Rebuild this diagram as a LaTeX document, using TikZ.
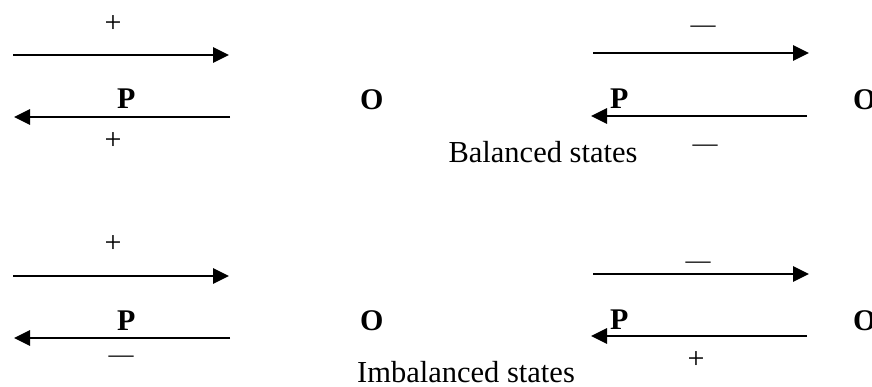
\documentclass[tikz,border=0pt]{standalone}
\usepackage{fontspec}
\setmainfont{Liberation Serif}
\usetikzlibrary{arrows.meta}
\tikzset{
  arr/.style={line width=2.9pt,-{Triangle[length=16pt,width=15pt]}},
  lbl/.style={inner sep=0pt,font=\fontsize{30.5}{36}\selectfont},
  sgn/.style={inner sep=0pt,font=\fontsize{30}{36}\selectfont,anchor=center},
  dsh/.style={inner sep=0pt,font=\fontsize{25}{30}\selectfont,anchor=center},
  pt/.style={inner sep=0pt,font=\fontsize{30}{36}\selectfont\bfseries,anchor=base west},
}
\begin{document}
\begin{tikzpicture}[x=1pt,y=-1pt]
\useasboundingbox (0,0) rectangle (872,387);
% panel 1 (balanced, left)
\coordinate (a1s) at (13,55); \coordinate (a1e) at (229,55);
\coordinate (b1s) at (230,117); \coordinate (b1e) at (14,117);
\draw[arr] (a1s) -- (a1e);
\draw[arr] (b1s) -- (b1e);
\node[sgn] (s1t) at (113,24) {+};
\node[sgn] (s1b) at (113,141) {+};
\node[pt] (p1) at (117,109) {P};
\node[pt] (o1) at (360,110) {O};
% panel 2 (balanced, right)
\coordinate (a2s) at (593,53); \coordinate (a2e) at (809,53);
\coordinate (b2s) at (807,116); \coordinate (b2e) at (591,116);
\draw[arr] (a2s) -- (a2e);
\draw[arr] (b2s) -- (b2e);
\node[dsh] (s2t) at (703,29) {—};
\node[dsh] (s2b) at (705,148) {—};
\node[pt] (p2) at (610,109) {P};
\node[pt] (o2) at (853,110) {O};
\node[lbl,anchor=base] (bal) at (543,163) {Balanced states};
% panel 3 (imbalanced, left)
\coordinate (a3s) at (13,276); \coordinate (a3e) at (229,276);
\coordinate (b3s) at (230,338); \coordinate (b3e) at (14,338);
\draw[arr] (a3s) -- (a3e);
\draw[arr] (b3s) -- (b3e);
\node[sgn] (s3t) at (113,244) {+};
\node[dsh] (s3b) at (121,359) {—};
\node[pt] (p3) at (117,330) {P};
\node[pt] (o3) at (360,330) {O};
% panel 4 (imbalanced, right)
\coordinate (a4s) at (593,274); \coordinate (a4e) at (809,274);
\coordinate (b4s) at (807,336); \coordinate (b4e) at (591,336);
\draw[arr] (a4s) -- (a4e);
\draw[arr] (b4s) -- (b4e);
\node[dsh] (s4t) at (698,265) {—};
\node[sgn] (s4b) at (696,360) {+};
\node[pt] (p4) at (610,329) {P};
\node[pt] (o4) at (853,330) {O};
\node[lbl,anchor=base west] (imb) at (357,382) {Imbalanced states};
\end{tikzpicture}
\end{document}
